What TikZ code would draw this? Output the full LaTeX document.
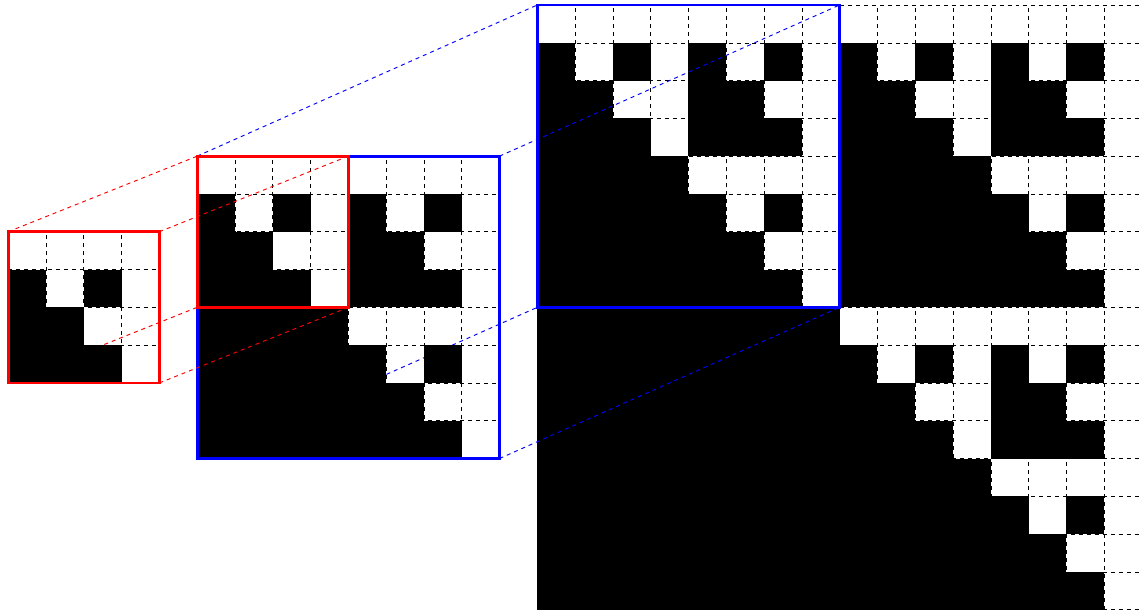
\documentclass[tikz,border=0pt]{standalone}
\usepackage{tikz}

\newcommand{\sierpgrid}[3]{%
  \pgfmathtruncatemacro{\gridlast}{#3-1}%
  \foreach \row in {0,...,\gridlast} {
    \foreach \col in {0,...,\gridlast} {
      \pgfmathtruncatemacro{\ccol}{#3-1-\col}
      \pgfmathtruncatemacro{\cellhit}{mod(\row,2)*mod(\ccol,2)+mod(floor(\row/2),2)*mod(floor(\ccol/2),2)+mod(floor(\row/4),2)*mod(floor(\ccol/4),2)+mod(floor(\row/8),2)*mod(floor(\ccol/8),2)}
      \ifnum\cellhit>0 \fill[black] (#1+\col,#2+#3-1-\row) rectangle ++(1,1); \fi
    }
  }
  \draw[cellgrid] (#1,#2) grid (#1+#3,#2+#3);
}

\begin{document}
\begin{tikzpicture}[cellgrid/.style={black,dashed,line width=0.4pt},
  bluebox/.style={blue,line width=2.1pt}, redbox/.style={red,line width=2.1pt},
  bluelink/.style={blue,dashed,line width=0.7pt}, redlink/.style={red,dashed,line width=0.7pt}]
\useasboundingbox (-14.216,-0.087) rectangle (15.973,16.132);
\sierpgrid{0}{0}{16}
\coordinate (L-nw) at (0,16); \coordinate (L-ne) at (8,16);
\coordinate (L-se) at (8,8); \coordinate (L-sw) at (0,8);
\draw[bluebox] (L-sw) rectangle (L-ne);
\coordinate (M-nw) at (-9,12); \coordinate (M-ne) at (-1,12);
\coordinate (M-se) at (-1,4); \coordinate (M-sw) at (-9,4);
\foreach \k in {nw,ne,se,sw} \draw[bluelink] (M-\k) -- (L-\k);
\sierpgrid{-9}{4}{8}
\draw[bluebox] (M-sw) rectangle (M-ne);
\coordinate (Mr-nw) at (-9,12); \coordinate (Mr-ne) at (-5,12);
\coordinate (Mr-se) at (-5,8); \coordinate (Mr-sw) at (-9,8);
\draw[redbox] (Mr-sw) rectangle (Mr-ne);
\coordinate (S-nw) at (-14,10); \coordinate (S-ne) at (-10,10);
\coordinate (S-se) at (-10,6); \coordinate (S-sw) at (-14,6);
\foreach \k in {nw,ne,se,sw} \draw[redlink] (S-\k) -- (Mr-\k);
\sierpgrid{-14}{6}{4}
\draw[redbox] (S-sw) rectangle (S-ne);
\end{tikzpicture}
\end{document}
